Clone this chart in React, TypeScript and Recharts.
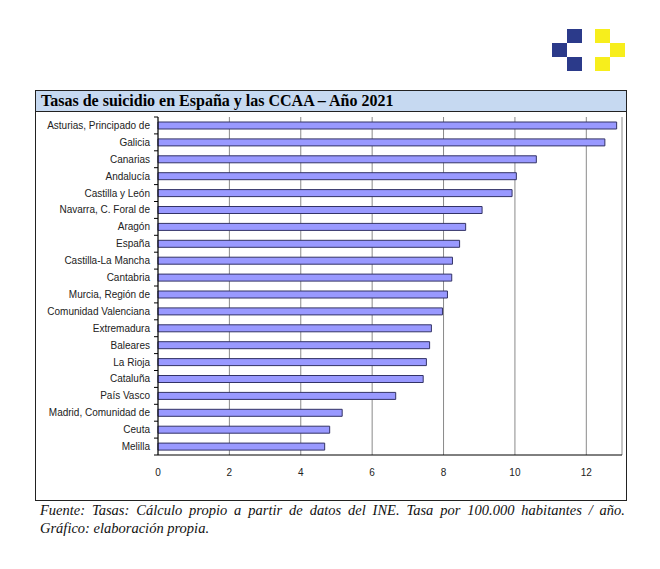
import React from "react";
import { BarChart, Bar, XAxis, YAxis, CartesianGrid } from "recharts";

const regions = [
  "Asturias, Principado de",
  "Galicia",
  "Canarias",
  "Andalucía",
  "Castilla y León",
  "Navarra, C. Foral de",
  "Aragón",
  "España",
  "Castilla-La Mancha",
  "Cantabria",
  "Murcia, Región de",
  "Comunidad Valenciana",
  "Extremadura",
  "Baleares",
  "La Rioja",
  "Cataluña",
  "País Vasco",
  "Madrid, Comunidad de",
  "Ceuta",
  "Melilla",
];

const rates = [
  12.85, 12.52, 10.6, 10.04, 9.92, 9.08, 8.62, 8.45, 8.25, 8.23, 8.11, 7.97,
  7.66, 7.61, 7.52, 7.43, 6.66, 5.16, 4.81, 4.67,
];

const xTicks = [0, 2, 4, 6, 8, 10, 12];

const data = regions.map((name, i) => ({ name, rate: rates[i] }));

const BAND = 338 / regions.length;

// labels end a bit left of the axis, small marks sit on the axis between categories
function RegionTick(props: any) {
  const { x, y, payload, index } = props;
  const ax = x + 8;
  return (
    <g>
      <text
        x={x}
        y={y}
        dy={3.5}
        textAnchor="end"
        fontSize={10}
        fontFamily="'Liberation Sans', Arial, sans-serif"
        fill="#222"
      >
        {payload.value}
      </text>
      <line x1={ax - 4} x2={ax} y1={y - BAND / 2} y2={y - BAND / 2} stroke="#000" />
      {index === regions.length - 1 && (
        <line x1={ax - 4} x2={ax} y1={y + BAND / 2} y2={y + BAND / 2} stroke="#000" />
      )}
    </g>
  );
}

const square = (left: number, top: number, color: string): React.CSSProperties => ({
  position: "absolute",
  left,
  top,
  width: 15,
  height: 14,
  background: color,
});

export default function App() {
  return (
    <div style={{ position: "relative", width: 660, height: 569, margin: -8, background: "#fff" }}>
      <div style={square(567, 29, "#2b3a8a")} />
      <div style={square(552, 43, "#2b3a8a")} />
      <div style={square(567, 57, "#2b3a8a")} />
      <div style={square(595, 29, "#f7ee1c")} />
      <div style={square(610, 43, "#f7ee1c")} />
      <div style={square(595, 57, "#f7ee1c")} />

      <div
        style={{
          position: "absolute",
          left: 35,
          top: 90,
          width: 590,
          height: 409,
          border: "1px solid #222",
        }}
      >
        <div
          style={{
            height: 20,
            background: "#c6d9f1",
            borderBottom: "1px solid #222",
            fontFamily: "'Liberation Serif', 'Times New Roman', serif",
            fontWeight: "bold",
            fontSize: 16,
            lineHeight: "20px",
            paddingLeft: 5,
            color: "#000",
          }}
        >
          Tasas de suicidio en España y las CCAA – Año 2021
        </div>
        <BarChart
          width={590}
          height={386}
          data={data}
          layout="vertical"
          margin={{ top: 5, right: 4, bottom: 13, left: 0 }}
          barCategoryGap={0}
        >
          <CartesianGrid horizontal={false} stroke="#8a8a8a" strokeWidth={1} />
          <XAxis
            type="number"
            domain={[0, 13]}
            ticks={xTicks}
            tickLine={false}
            axisLine={{ stroke: "#000" }}
            tick={{ fontSize: 10, fill: "#222", fontFamily: "'Liberation Sans', Arial, sans-serif" }}
            tickMargin={8}
            height={30}
          />
          <YAxis
            type="category"
            dataKey="name"
            width={122}
            axisLine={{ stroke: "#000" }}
            tickLine={false}
            tick={<RegionTick />}
            interval={0}
          />
          <Bar
            dataKey="rate"
            barSize={7}
            fill="#9999ff"
            stroke="#333366"
            strokeWidth={1}
            isAnimationActive={false}
          />
        </BarChart>
      </div>

      <div
        style={{
          position: "absolute",
          left: 40,
          top: 501,
          width: 585,
          fontFamily: "'Liberation Serif', 'Times New Roman', serif",
          fontStyle: "italic",
          fontSize: 14.5,
          lineHeight: "18px",
          textAlign: "justify",
          color: "#111",
        }}
      >
        Fuente: Tasas: Cálculo propio a partir de datos del INE. Tasa por 100.000 habitantes / año.
        Gráfico: elaboración propia.
      </div>
    </div>
  );
}
